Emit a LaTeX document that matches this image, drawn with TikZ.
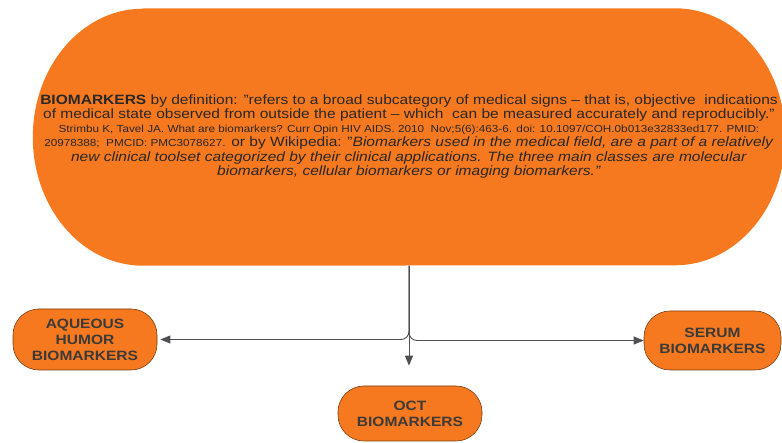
\documentclass[tikz,border=0pt]{standalone}
\usepackage{fontspec}
\setmainfont{Liberation Sans}[FakeStretch=1.15]
\usepackage{xcolor}
\usepackage{tikz}
\usetikzlibrary{arrows.meta,backgrounds,positioning}

\definecolor{bioorange}{RGB}{246,121,32}
\definecolor{bioedge}{RGB}{120,62,20}
\definecolor{biotext}{RGB}{40,40,40}
\definecolor{boxtext}{RGB}{60,58,56}
\definecolor{linkgrey}{RGB}{80,80,84}

\begin{document}
\begin{tikzpicture}[x=1pt,y=1pt,
  deftext/.style={align=center,text=biotext,inner sep=0pt,
    minimum width=752pt,minimum height=257pt,font=\fontsize{13.5}{14}\selectfont},
  classbox/.style={fill=bioorange,draw=bioedge,line width=0.6pt,rounded corners=26pt,
    align=center,text=boxtext,inner sep=0pt,font=\bfseries\fontsize{13.5}{16}\selectfont},
  link/.style={draw=linkgrey,line width=0.9pt,-{Triangle[length=10pt,width=8pt]}}]
% canvas
\useasboundingbox (0,0) rectangle (782,-443);
% Definition
\node[deftext] (def) at (409,-137) {%
  \textbf{BIOMARKERS} by definition: "refers to a broad subcategory of medical signs -- that is, objective\ \ indications\\
  of medical state observed from outside the patient -- which\ \ can be measured accurately and reproducibly."\\
  {\fontsize{10.2}{13}\selectfont Strimbu K, Tavel JA. What are biomarkers? Curr Opin HIV AIDS. 2010\ \ Nov;5(6):463-6. doi: 10.1097/COH.0b013e32833ed177. PMID:}\\
  {\fontsize{10.2}{13}\selectfont 20978388;\ \ PMCID: PMC3078627.} or by Wikipedia: "\textit{Biomarkers used in the medical field, are a part of a relatively}\\[0.5pt]
  \textit{new clinical toolset categorized by their clinical applications. The three main classes are molecular}\\[0.5pt]
  \textit{biomarkers, cellular biomarkers or imaging biomarkers."}};
\begin{scope}[on background layer]
\fill[bioorange] ([xshift=110pt]def.north west) -- ([xshift=-110pt]def.north east)
  arc[start angle=90,end angle=-90,x radius=110pt,y radius=128.5pt]
  -- ([xshift=110pt]def.south west)
  arc[start angle=270,end angle=90,x radius=110pt,y radius=128.5pt] -- cycle;
\end{scope}
% Classes
\node[classbox,minimum width=144pt,minimum height=61pt] (aqueous) at (85,-339.5) {AQUEOUS\\HUMOR\\BIOMARKERS};
\node[classbox,minimum width=137pt,minimum height=59pt] (serum) at (712.5,-340.5) {SERUM\\BIOMARKERS};
\node[classbox,minimum width=144pt,minimum height=55pt] (oct) at (410,-413.5) {OCT\\BIOMARKERS};
% Connectors
\draw[link,rounded corners=8pt,shorten >=3pt] (def.south) |- (aqueous.east);
\draw[link,rounded corners=8pt] (def.south) |- (serum.west);
\draw[link,shorten >=20pt] (def.south) -- (def.south |- oct.north);
\end{tikzpicture}
\end{document}
